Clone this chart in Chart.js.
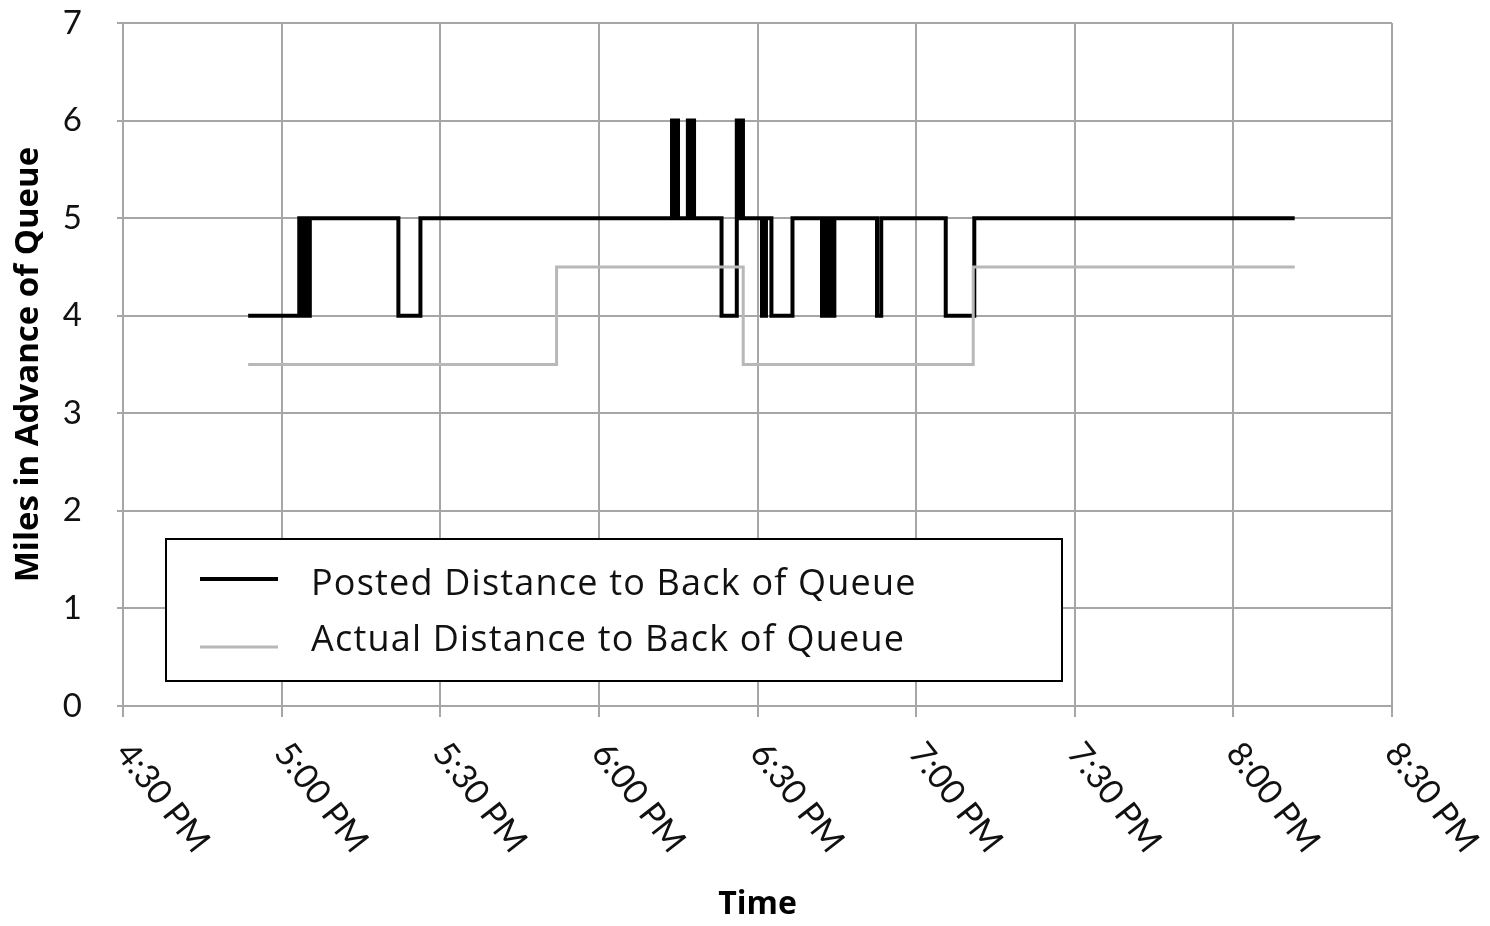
<!DOCTYPE html>
<html>
<head>
<meta charset="utf-8">
<script src="https://cdn.jsdelivr.net/npm/chart.js@4.4.1/dist/chart.umd.min.js"></script>
<style>
  body { margin: 0; background: #fff; }
  canvas { display: block; }
</style>
</head>
<body>
<canvas id="queueChart" width="1490" height="926"></canvas>
<script>
// posted sign message: time it changed -> miles shown
const postedTimes = ['16:53:40', '17:03:20', '17:04:00', '17:04:40', '17:05:00', '17:05:20',
    '17:22:05', '17:26:15',
    '18:13:50', '18:14:20', '18:14:30', '18:14:58',
    '18:16:50', '18:17:20', '18:17:30', '18:18:00',
    '18:23:12', '18:26:05', '18:26:35', '18:26:45', '18:27:15',
    '18:30:51', '18:31:36', '18:32:38', '18:36:37',
    '18:42:12', '18:42:40', '18:43:08', '18:43:36', '18:44:04', '18:44:32',
    '18:52:36', '18:53:24', '19:05:36', '19:11:00', '20:11:36'];
const postedMiles = [4, 5, 4, 5, 4, 5,
    4, 5,
    6, 5, 6, 5,
    6, 5, 6, 5,
    4, 6, 5, 6, 5,
    4, 5, 4, 5,
    4, 5, 4, 5, 4, 5,
    4, 5, 4, 5, 5];

// measured back of queue
const actualTimes = ['16:53:40', '17:52:00', '18:27:18', '19:10:48', '20:11:36'];
const actualMiles = [3.5, 4.5, 3.5, 4.5, 4.5];

const xTicks = ['4:30 PM', '5:00 PM', '5:30 PM', '6:00 PM', '6:30 PM', '7:00 PM', '7:30 PM', '8:00 PM', '8:30 PM'];
const yTicks = [0, 1, 2, 3, 4, 5, 6, 7];

function toMinutes(t) {
    const p = t.split(':').map(Number);
    return p[0] * 60 + p[1] + (p[2] || 0) / 60;
}
const xMin = toMinutes('16:30'), xMax = toMinutes('20:30');

function points(times, vals) {
    return times.map((t, i) => ({ x: toMinutes(t), y: vals[i] }));
}

const gridGray = '#a6a6a6';

// x labels run downward to the right, chart.js can't do that on its own
const slantLabels = {
    id: 'slantLabels',
    afterDraw(chart) {
        const { ctx } = chart;
        const x = chart.scales.x;
        ctx.save();
        ctx.font = '34px Lato';
        ctx.fillStyle = '#111';
        ctx.textAlign = 'left';
        ctx.textBaseline = 'middle';
        x.ticks.forEach((t, i) => {
            ctx.save();
            ctx.translate(x.getPixelForValue(t.value), x.top + 41);
            ctx.rotate(52 * Math.PI / 180);
            ctx.fillText(xTicks[i], 0, 0);
            ctx.restore();
        });
        ctx.restore();
    }
};

// boxed legend sitting inside the plot
const boxLegend = {
    id: 'boxLegend',
    afterDatasetsDraw(chart) {
        const { ctx, chartArea: a } = chart;
        const x0 = a.left + 43, y0 = a.top + 516, w = 896, h = 142;
        ctx.save();
        ctx.fillStyle = '#fff';
        ctx.fillRect(x0, y0, w, h);
        ctx.strokeStyle = '#000';
        ctx.lineWidth = 2;
        ctx.strokeRect(x0, y0, w, h);
        ctx.font = '36px "Open Sans"';
        ctx.letterSpacing = '1.2px';
        ctx.textAlign = 'left';
        ctx.textBaseline = 'alphabetic';
        const rows = [{ line: 40, text: 56 }, { line: 108, text: 112 }];
        chart.data.datasets.forEach((ds, i) => {
            ctx.strokeStyle = ds.borderColor;
            ctx.lineWidth = ds.borderWidth;
            ctx.beginPath();
            ctx.moveTo(x0 + 34, y0 + rows[i].line);
            ctx.lineTo(x0 + 112, y0 + rows[i].line);
            ctx.stroke();
            ctx.fillStyle = '#111';
            ctx.fillText(ds.label, x0 + 145, y0 + rows[i].text);
        });
        ctx.restore();
    }
};

new Chart(document.getElementById('queueChart'), {
    type: 'line',
    data: {
        datasets: [{
            label: 'Posted Distance to Back of Queue',
            data: points(postedTimes, postedMiles),
            borderColor: '#000',
            borderWidth: 4,
            stepped: true,
            pointRadius: 0,
            order: 2
        }, {
            label: 'Actual Distance to Back of Queue',
            data: points(actualTimes, actualMiles),
            borderColor: '#b8b8b8',
            borderWidth: 3,
            stepped: true,
            pointRadius: 0,
            order: 1
        }]
    },
    options: {
        responsive: false,
        devicePixelRatio: 1,
        animation: false,
        layout: { padding: { top: 23, right: 98, left: 0, bottom: 0 } },
        plugins: { legend: { display: false }, tooltip: { enabled: false } },
        elements: { line: { tension: 0, borderCapStyle: 'butt', borderJoinStyle: 'miter' } },
        scales: {
            x: {
                type: 'linear',
                min: xMin,
                max: xMax,
                afterFit: s => { s.height = 220; },
                ticks: { display: false, stepSize: 30 },
                grid: { color: gridGray, lineWidth: 2, tickLength: 11 },
                border: { color: gridGray, width: 2 },
                title: {
                    display: true, text: 'Time', color: '#000',
                    font: { family: 'Open Sans', size: 32, weight: 'bold' },
                    padding: { top: 0, bottom: 2 }
                }
            },
            y: {
                min: yTicks[0],
                max: yTicks[yTicks.length - 1],
                afterFit: s => { s.width = 123; s.paddingTop = 0; s.paddingBottom = 0; },
                ticks: {
                    stepSize: 1, padding: 35, color: '#111',
                    font: { family: 'Lato', size: 33 }
                },
                grid: { color: gridGray, lineWidth: 2, tickLength: 6 },
                border: { color: gridGray, width: 2 },
                title: {
                    display: true, text: 'Miles in Advance of Queue', color: '#000',
                    font: { family: 'Open Sans', size: 33, weight: 'bold' },
                    padding: { top: 9, bottom: 0 }
                }
            }
        }
    },
    plugins: [slantLabels, boxLegend]
});
</script>
</body>
</html>
